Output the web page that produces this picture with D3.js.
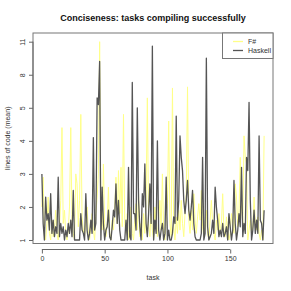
<!DOCTYPE html>
<html>
<head>
<meta charset="utf-8">
<script src="https://cdn.jsdelivr.net/npm/d3@7"></script>
<style>
  body { margin: 0; background: #fff; }
  svg { display: block; font-family: "Liberation Sans", Arial, sans-serif; }
</style>
</head>
<body>
<svg id="chart"></svg>
<script>
var width = 291,
    height = 291;

// y axis labels (the axis is not linear: labels sit at equal spacing)
var yTicks = [1, 2, 3, 4, 5, 8, 11];
var xTicks = [0, 50, 100, 150];
var seriesNames = ["F#", "Haskell"];
var seriesColors = ["#ffff88", "#555555"];

// mean lines of code per task, tasks 0..177
var fsharp = [
  2.0, 2.9, 1.2, 1, 1.5, 2.3, 1.2, 1, 1.6, 1.1,
  1.3, 1.9, 1.2, 1, 1.4, 2.2, 4.4, 1.5, 1.9, 1.2,
  1, 1.3, 2.0, 4.4, 1.6, 1.2, 1, 3.0, 2.7, 1.4,
  2.2, 4.8, 1.7, 1.3, 1.1, 1.6, 2.0, 1.2, 1, 1.4,
  1.8, 1.3, 1, 1.8, 2.3, 3.0, 11, 1.8, 1.3, 3.3,
  1.4, 1.1, 1.5, 2.6, 1.2, 1, 1.6, 1.3, 1.9, 2.9,
  1.5, 3.1, 1.8, 3.2, 1.4, 4.8, 1.5, 1.2, 1.8, 1,
  1.3, 2.0, 1.2, 1, 1.6, 2.1, 1.3, 2.4, 1.1, 1.5,
  1, 1.8, 1.2, 2.3, 5.9, 1.5, 1.1, 1.8, 1.3, 1,
  2.0, 1.4, 1.1, 1.6, 2.2, 1.3, 3.0, 1.2, 1, 1.7,
  2.1, 4.6, 1.5, 1.1, 6.8, 1.4, 1, 1.7, 1.2, 1.9,
  1.3, 2.2, 1.5, 1.1, 1.8, 2.4, 6.9, 1.6, 1.2, 1.9,
  1.3, 2.4, 1.6, 1.2, 1.7, 2.1, 1.6, 2.5, 1.4, 1.1,
  1.5, 1.9, 1.2, 1, 1.6, 2.2, 1.5, 1.2, 1, 1.6,
  1.3, 1.8, 1.2, 1.5, 2.4, 1.3, 1.1, 1.7, 1.3, 1,
  1.2, 1.8, 1.5, 1.2, 2.7, 2.3, 1.4, 1.9, 3.5, 2.0,
  1.5, 4.15, 3.5, 3.3, 1, 1.3, 1.6, 1.2, 1.4, 2.3,
  1.5, 1.3, 1.7, 1.2, 1, 1.3, 1, 4.15
];

var haskell = [
  3.0, 1.5, 1, 2.3, 1.6, 1.8, 1.3, 2.4, 1.2, 1.6,
  1.1, 1.4, 1.2, 2.9, 1.1, 1.5, 1.2, 1.4, 1, 1.3,
  1.1, 1.5, 1.2, 1.6, 1.1, 2.5, 1, 1, 1, 1,
  1, 1.8, 1.3, 1.2, 1, 2.4, 1.3, 1, 1.2, 1.6,
  1.2, 4.1, 1.3, 1.5, 5.9, 5.3, 9.2, 1, 2.6, 1.5,
  1, 1.3, 1.4, 1.9, 1.1, 1, 1.4, 1.9, 1.7, 2.7,
  1.5, 2.2, 1.3, 1, 1, 1, 1, 1.6, 1, 3.2,
  1.1, 1, 7.3, 1.8, 1.8, 1.3, 5.0, 2.2, 1.4, 1,
  2.4, 2.0, 3.3, 1.5, 1.1, 1.8, 2.7, 1.5, 10.6, 1,
  1.6, 1.2, 4.0, 1.3, 1, 1.3, 1.5, 1, 1.2, 2.9,
  1, 1.3, 1, 1, 1.2, 1.7, 1.5, 4.75, 1.6, 2.2,
  4.15, 3.5, 3.1, 2.2, 1.8, 2.2, 2.8, 1.9, 1.6, 2.0,
  2.5, 1.5, 1.1, 1, 1, 1, 1, 1.2, 3.5, 1,
  1.2, 9.5, 1.4, 1, 1.1, 1.2, 1.6, 1.2, 2.6, 2.0,
  1.6, 1.1, 1.3, 1.1, 1.5, 1.1, 1.2, 1.4, 1, 1.8,
  1.4, 1, 1.3, 2.8, 1.5, 1, 1.3, 1.8, 1.4, 3.2,
  1.1, 1.5, 1.2, 3.5, 3.1, 5.5, 2.2, 1, 1.3, 1.9,
  1.2, 1.6, 1.2, 4.15, 1.6, 1.5, 1, 1.9
];

var series = [fsharp, haskell];

var box = {left: 33, right: 273, top: 33, bottom: 243.5};

var svg = d3.select('#chart')
    .attr('width', width)
    .attr('height', height);

var n = haskell.length - 1;
var x = d3.scaleLinear()
    .domain([-0.04 * n, n * 1.04])
    .range([box.left, box.right]);

// equally spaced label slots, then a polylinear scale through them
var slot = d3.scaleLinear()
    .domain([-0.106, yTicks.length - 1 + 0.263])
    .range([box.bottom, box.top]);
var y = d3.scaleLinear()
    .domain(yTicks)
    .range(yTicks.map(function(d, i) { return slot(i); }));

var line = d3.line()
    .x(function(d, i) { return x(i); })
    .y(function(d) { return y(d); });

svg.selectAll('path.series')
    .data(series)
  .enter().append('path')
    .attr('class', 'series')
    .attr('d', line)
    .attr('fill', 'none')
    .attr('stroke', function(d, i) { return seriesColors[i]; })
    .attr('stroke-width', function(d, i) { return i == 1 ? 1.3 : 1; })
    .attr('stroke-linejoin', 'round');

// plot box
svg.append('rect')
    .attr('x', box.left)
    .attr('y', box.top)
    .attr('width', box.right - box.left)
    .attr('height', box.bottom - box.top)
    .attr('fill', 'none')
    .attr('stroke', '#777')
    .attr('stroke-width', 1);

// x axis, R style, a little below the box
var xAxis = svg.append('g')
    .attr('transform', 'translate(0,249.5)')
    .call(d3.axisBottom(x).tickValues(xTicks).tickSize(4).tickPadding(3));
xAxis.select('.domain').attr('d', 'M' + x(xTicks[0]) + ',0H' + x(xTicks[xTicks.length - 1]));

// y axis on the box edge
var yAxis = svg.append('g')
    .attr('transform', 'translate(' + box.left + ',0)')
    .call(d3.axisLeft(y).tickValues(yTicks).tickSize(4).tickPadding(3));
yAxis.select('.domain').attr('d', 'M0,' + y(yTicks[0]) + 'V' + y(yTicks[yTicks.length - 1]));
yAxis.selectAll('.tick text')
    .attr('transform', 'rotate(-90)')
    .attr('x', 0)
    .attr('dy', 0)
    .attr('y', -8)
    .style('text-anchor', 'middle');

svg.selectAll('.domain, .tick line').attr('stroke', '#666');
svg.selectAll('.tick text')
    .attr('fill', '#333')
    .style('font-size', '7px')
    .style('font-family', '"Liberation Sans", Arial, sans-serif');

svg.append('text')
    .text('Conciseness: tasks compiling successfully')
    .attr('x', (box.left + box.right) / 2)
    .attr('y', 21)
    .attr('font-size', 9)
    .attr('font-weight', 'bold')
    .attr('fill', '#111')
    .style('text-anchor', 'middle');

svg.append('text')
    .text('task')
    .attr('x', (box.left + box.right) / 2)
    .attr('y', 280)
    .attr('font-size', 7)
    .attr('fill', '#333')
    .style('text-anchor', 'middle');

svg.append('text')
    .text('lines of code (mean)')
    .attr('transform', 'translate(10,' + (box.top + box.bottom) / 2 + ') rotate(-90)')
    .attr('font-size', 7)
    .attr('fill', '#333')
    .style('text-anchor', 'middle');

// legend in the top right corner
var legend = svg.append('g');
legend.append('rect')
    .attr('x', 222.5)
    .attr('y', box.top)
    .attr('width', box.right - 222.5)
    .attr('height', 25.5)
    .attr('fill', '#fff')
    .attr('stroke', '#777');

var entry = legend.selectAll('g.entry')
    .data(seriesNames)
  .enter().append('g')
    .attr('class', 'entry')
    .attr('transform', function(d, i) { return 'translate(233,' + (41.5 + i * 9) + ')'; });
entry.append('line')
    .attr('x1', 0).attr('x2', 10)
    .attr('stroke', function(d, i) { return seriesColors[i]; })
    .attr('stroke-width', 1.3);
entry.append('text')
    .text(function(d) { return d; })
    .attr('x', 15)
    .attr('y', 2.5)
    .attr('font-size', 7)
    .attr('fill', '#333');
</script>
</body>
</html>
